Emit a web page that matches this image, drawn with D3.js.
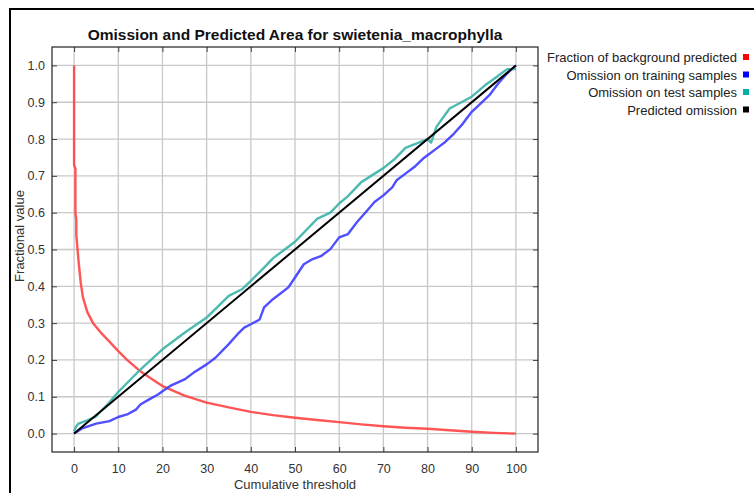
<!DOCTYPE html>
<html><head><meta charset="utf-8">
<script src="https://cdn.jsdelivr.net/npm/d3@7"></script>
<style>body{margin:0;background:#fff;}svg{display:block;font-family:"Liberation Sans",Arial,sans-serif;}</style>
</head><body><svg id="c" width="754" height="493"></svg>
<script>
const title = "Omission and Predicted Area for swietenia_macrophylla";
const xTicks = [0,10,20,30,40,50,60,70,80,90,100];
const yTicks = [0,0.1,0.2,0.3,0.4,0.5,0.6,0.7,0.8,0.9,1.0];
const seriesNames = ["Fraction of background predicted","Omission on training samples","Omission on test samples","Predicted omission"];
const seriesColors = ["#ff4343","#3c3cff","#3ab3a8","#000000"];
const legendColors = ["#ff0000","#0000ff","#00b0a8","#000000"];

const bgX = [0,0,0.3,0.3,0.5,0.5,1,1.5,2,3,4.3,6,8,10,12,15,18,20,25,30,35,40,45,50,55,60,65,70,75,80,85,90,95,100];
const bgY = [1.0,0.73,0.72,0.60,0.58,0.54,0.47,0.41,0.37,0.33,0.30,0.275,0.25,0.224,0.20,0.169,0.145,0.129,0.103,0.084,0.071,0.059,0.050,0.043,0.037,0.031,0.025,0.020,0.016,0.013,0.009,0.005,0.002,0.0];

const trX = [0,2,5,8,10,12,14,15,17,19,20,22,25,27,30,32,35,37,38.5,40,42,43,45,47,48.5,50,52,54,56,58,60,62,64,66,68,70,72,73,75,77,79,80,82,84,86,88,90,92,94,96,98,100];
const trY = [0,0.015,0.027,0.034,0.045,0.052,0.065,0.079,0.093,0.106,0.115,0.131,0.147,0.165,0.188,0.206,0.243,0.27,0.288,0.297,0.31,0.343,0.365,0.383,0.397,0.424,0.46,0.474,0.483,0.501,0.533,0.542,0.574,0.601,0.629,0.647,0.669,0.688,0.706,0.724,0.747,0.756,0.774,0.792,0.815,0.842,0.874,0.896,0.919,0.951,0.978,1.0];

const teX = [0,0.5,1,3,5,8,10,15,20,25,30,35,38,40,43,45,50,55,58,60,62,65,70,72.5,75,78,80,80.8,82,85,90,93,95,98,100];
const teY = [0.006,0.02,0.027,0.036,0.047,0.085,0.113,0.174,0.229,0.274,0.315,0.374,0.392,0.415,0.451,0.476,0.521,0.583,0.60,0.625,0.645,0.683,0.721,0.745,0.776,0.79,0.80,0.79,0.833,0.883,0.915,0.946,0.963,0.99,0.99];

const prX = [0,100];
const prY = [0,1];

const svg = d3.select("#c");
const L=52,R=538,T=47,B=452;
const x = d3.scaleLinear().domain([-5,105]).range([L,R]);
const y = d3.scaleLinear().domain([-0.05,1.05]).range([B,T]);

svg.append("rect").attr("x",10).attr("y",9).attr("width",760).attr("height",500)
  .attr("fill","none").attr("stroke","#000").attr("stroke-width",2);

const g = svg.append("g");
g.selectAll(".gx").data(xTicks).enter().append("line")
  .attr("x1",d=>x(d)).attr("x2",d=>x(d)).attr("y1",T).attr("y2",B)
  .attr("stroke","#c8c8c8").attr("stroke-width",1.3);
g.selectAll(".gy").data(yTicks).enter().append("line")
  .attr("y1",d=>y(d)).attr("y2",d=>y(d)).attr("x1",L).attr("x2",R)
  .attr("stroke","#c8c8c8").attr("stroke-width",1.3);

const axB = d3.axisBottom(x).tickValues(xTicks).tickSize(-5).tickPadding(12).tickFormat(d3.format("d"));
const axT = d3.axisTop(x).tickValues(xTicks).tickSize(-5).tickFormat("");
const axL = d3.axisLeft(y).tickValues(yTicks).tickSize(-5).tickPadding(7).tickFormat(d3.format(".1f"));
const axR = d3.axisRight(y).tickValues(yTicks).tickSize(-5).tickFormat("");
function styleAx(sel){
  sel.select(".domain").remove();
  sel.selectAll(".tick line").attr("stroke","#444");
  sel.selectAll(".tick text").attr("fill","#333").style("font-size","12.5px").style("font-family","'Liberation Sans',Arial,sans-serif");
}
svg.append("g").attr("transform",`translate(0,${B})`).call(axB).call(styleAx);
svg.append("g").attr("transform",`translate(0,${T})`).call(axT).call(styleAx);
svg.append("g").attr("transform",`translate(${L},0)`).call(axL).call(styleAx);
svg.append("g").attr("transform",`translate(${R},0)`).call(axR).call(styleAx);

const line = d3.line().x(d=>x(d[0])).y(d=>y(d[1]));
const seriesData = [d3.zip(bgX,bgY), d3.zip(trX,trY), d3.zip(teX,teY), d3.zip(prX,prY)];
[0,1,2,3].forEach(i=>{
  svg.append("path").datum(seriesData[i]).attr("d",line)
    .attr("fill","none").attr("stroke",seriesColors[i])
    .attr("stroke-width",i===3?2:2.4).attr("stroke-linejoin","round")
    .attr("opacity",i===3?1:0.9);
});

svg.append("rect").attr("x",L).attr("y",T).attr("width",R-L).attr("height",B-T)
  .attr("fill","none").attr("stroke","#222").attr("stroke-width",1.2);

svg.append("text").attr("x",(L+R)/2).attr("y",40).attr("text-anchor","middle")
  .style("font-size","15.5px").style("font-weight","bold").attr("fill","#111").text(title);
svg.append("text").attr("x",(L+R)/2).attr("y",489).attr("text-anchor","middle")
  .style("font-size","13px").attr("fill","#333").text("Cumulative threshold");
svg.append("text").attr("transform","translate(24,236) rotate(-90)").attr("text-anchor","middle")
  .style("font-size","13px").attr("fill","#333").text("Fractional value");

const lg = svg.append("g");
seriesNames.forEach((n,i)=>{
  const yy = 62 + i*17.5;
  lg.append("text").attr("x",737).attr("y",yy).attr("text-anchor","end")
    .style("font-size","13px").attr("fill","#222").text(n);
  lg.append("rect").attr("x",743).attr("y",yy-8).attr("width",6).attr("height",6)
    .attr("fill",legendColors[i]);
});
</script></body></html>
